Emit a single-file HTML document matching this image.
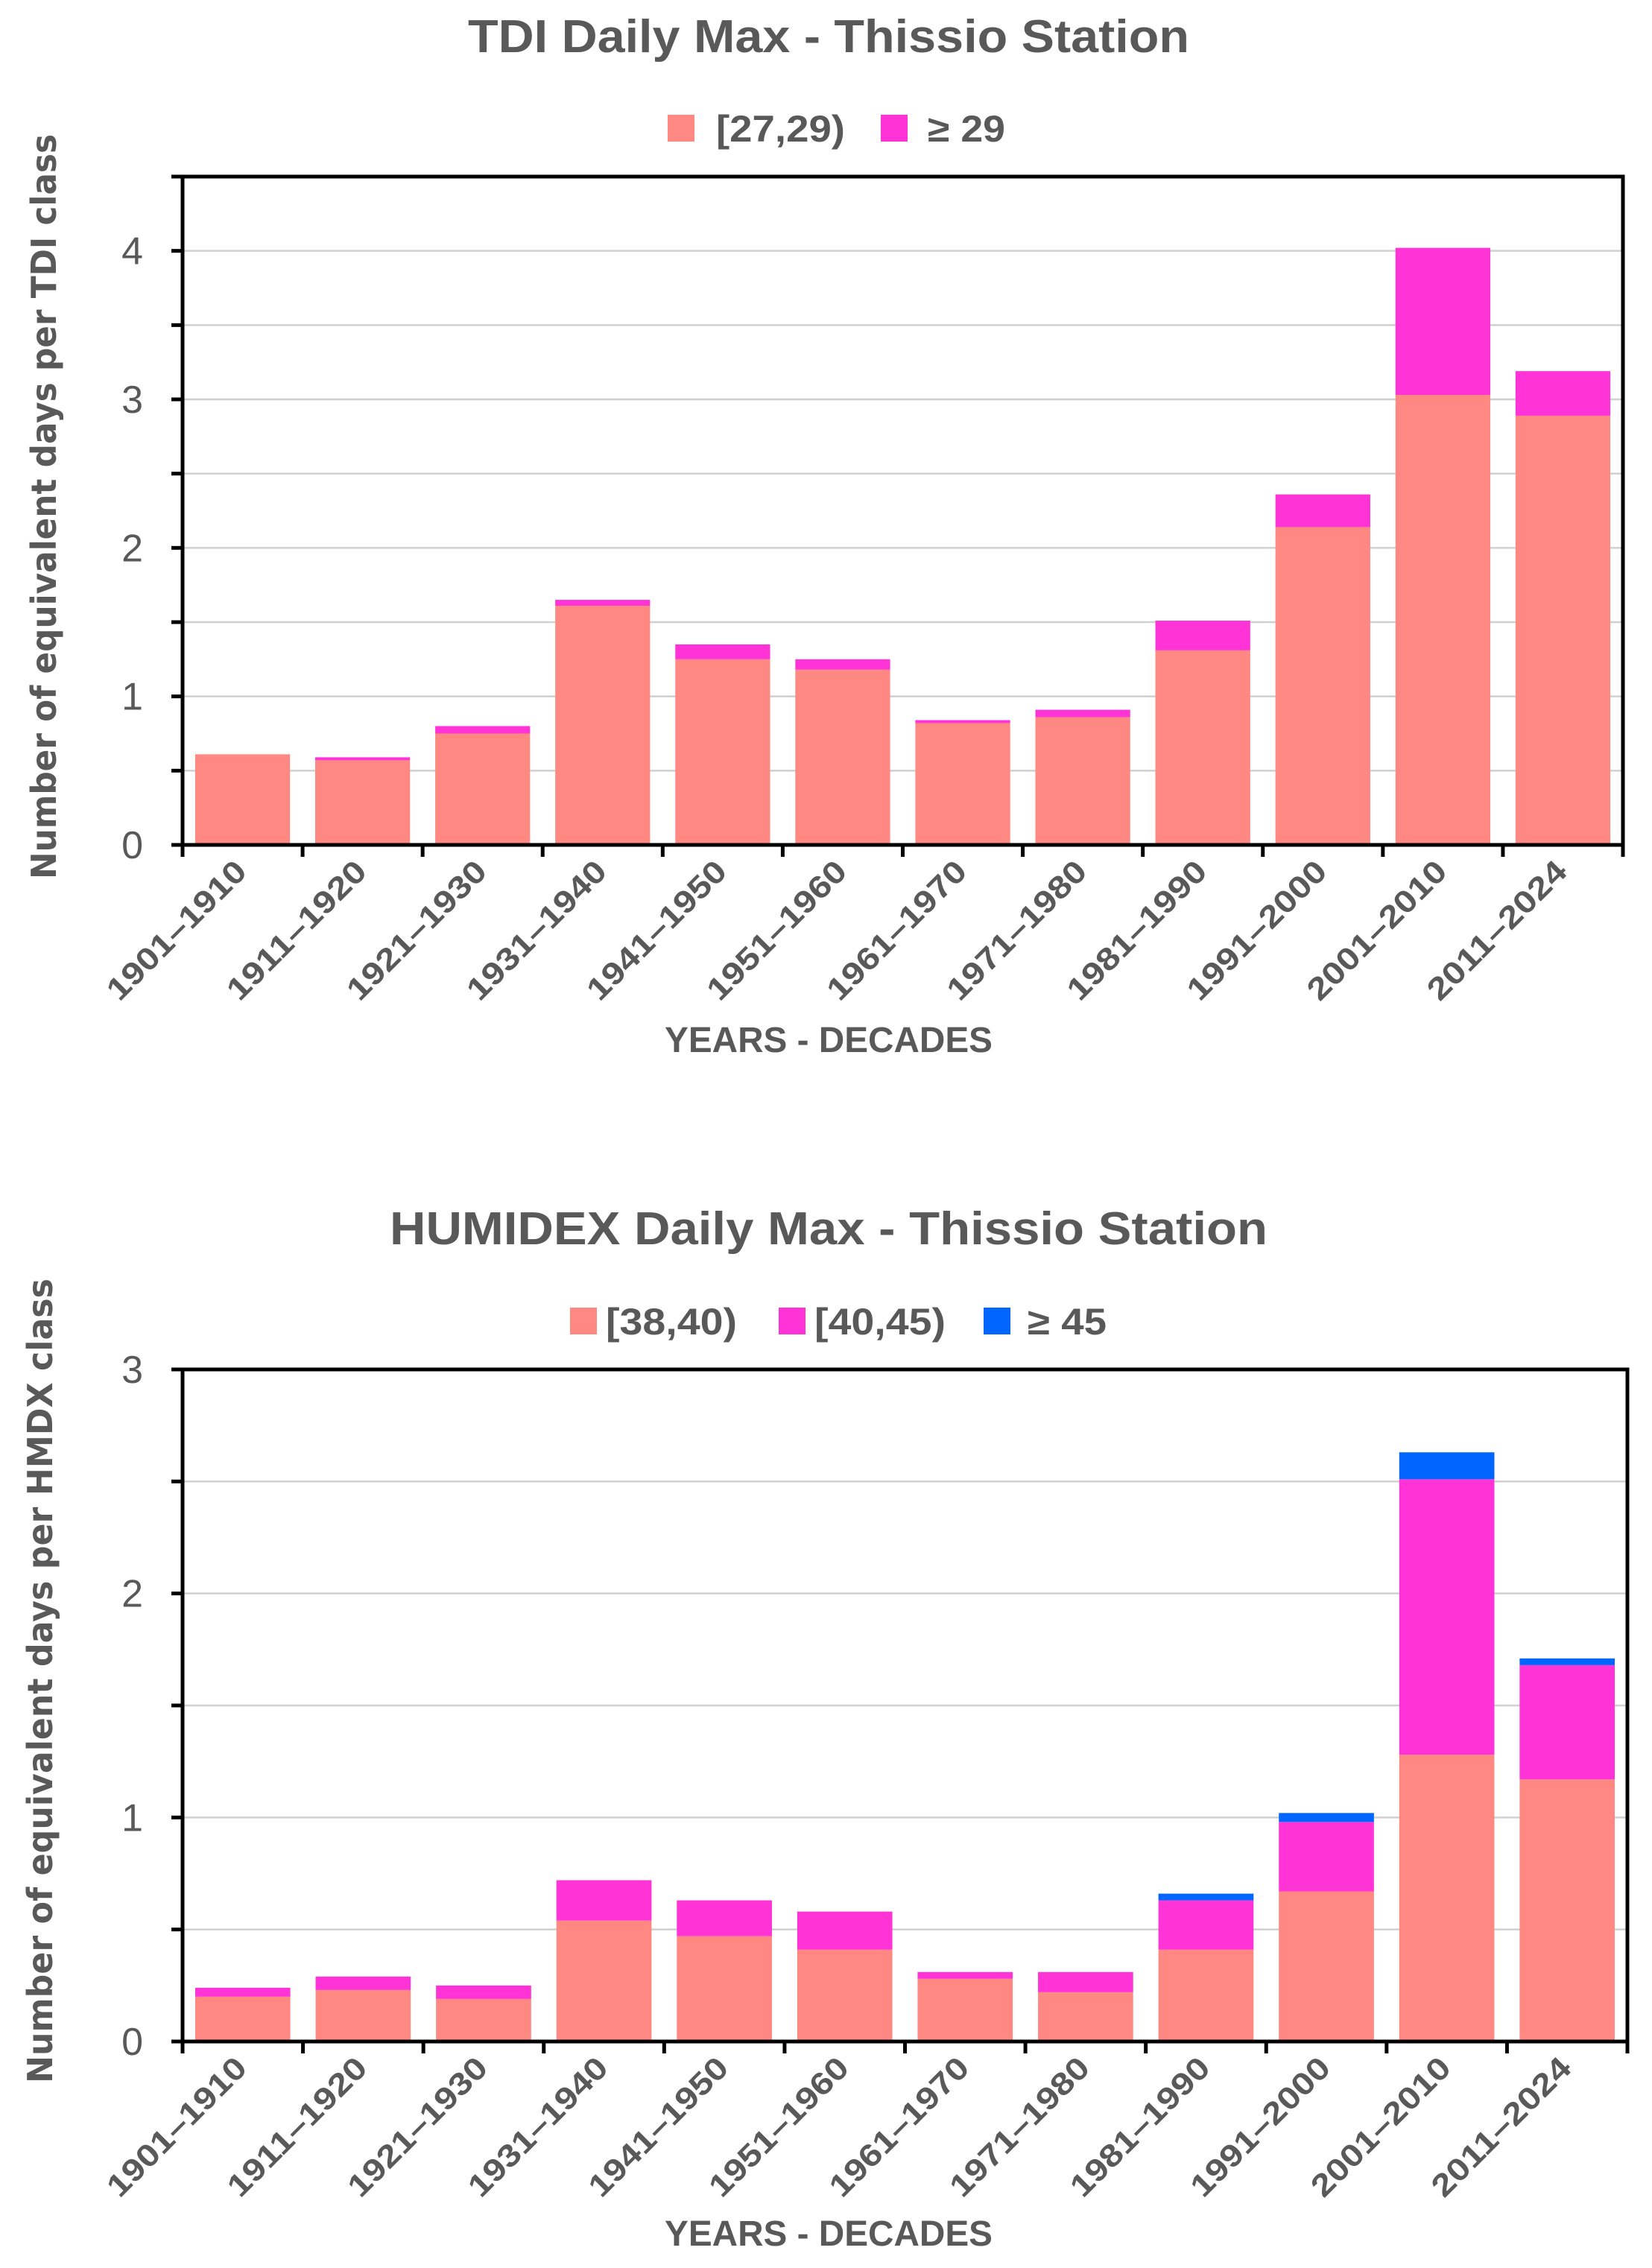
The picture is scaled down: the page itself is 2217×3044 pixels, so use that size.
<!DOCTYPE html>
<html><head><meta charset="utf-8"><style>
html,body{margin:0;padding:0;background:#fff}
svg{display:block}
text{font-family:"Liberation Sans",sans-serif;fill:#595959}
</style></head><body>
<svg id="c" width="2217" height="3044" viewBox="0 0 2217 3044" xmlns="http://www.w3.org/2000/svg"></svg>
<script>
const categories=["1901–1910","1911–1920","1921–1930","1931–1940","1941–1950","1951–1960","1961–1970","1971–1980","1981–1990","1991–2000","2001–2010","2011–2024"];
const tdiLow=[0.61,0.57,0.75,1.61,1.25,1.18,0.82,0.86,1.31,2.14,3.03,2.89];
const tdiHigh=[0.00,0.02,0.05,0.04,0.10,0.07,0.02,0.05,0.20,0.22,0.99,0.30];
const hmLow=[0.20,0.23,0.19,0.54,0.47,0.41,0.28,0.22,0.41,0.67,1.28,1.17];
const hmMid=[0.04,0.06,0.06,0.18,0.16,0.17,0.03,0.09,0.22,0.31,1.23,0.51];
const hmHigh=[0,0,0,0,0,0,0,0,0.03,0.04,0.12,0.03];
const tdiTicks=["0","1","2","3","4"];
const hmTicks=["0","1","2","3"];
const NS="http://www.w3.org/2000/svg";
const svg=document.getElementById('c');
function mk(tag,attrs,parent,txt){const e=document.createElementNS(NS,tag);for(const k in attrs)e.setAttribute(k,attrs[k]);if(txt!==undefined)e.textContent=txt;(parent||svg).appendChild(e);return e;}
function chart(o){
  const g=mk('g',{});
  
  
  const L=o.left,R=o.right,T=o.top,B=o.bottom;
  const y=v=>B-(v/o.max)*(B-T);
  const cw=(R-L)/categories.length;
  const x=i=>L+i*cw;
  for(let v=0.5;v<o.max+0.001;v+=0.5){
    const gl=mk('line',{x1:L,x2:R,y1:y(v),y2:y(v),stroke:'#d0d0d0','stroke-width':2.5},g);
    
    
  }
  categories.forEach((c,i)=>{
    let base=0;
    o.series.forEach(s=>{
      const v=s.vals[i];
      if(v>0){
        const r=mk('rect',{x:x(i)+cw*0.105,width:cw*0.79,y:y(base+v),height:y(base)-y(base+v),fill:s.color},g);
        
        
      }
      base+=v;
    });
  });
  const fr=mk('rect',{x:L,y:T,width:R-L,height:B-T,fill:'none',stroke:'#000','stroke-width':5},g);
  
  
  for(let v=0;v<=o.max+0.001;v+=0.5){
    mk('line',{x1:L-15,x2:L,y1:y(v),y2:y(v),stroke:'#000','stroke-width':5},g);
  }
  o.ticks.forEach(t=>{
    const tl=mk('text',{x:192,y:y(+t)+18,'text-anchor':'end','font-size':52},g,t);
    
    
  });
  for(let i=0;i<=categories.length;i++){
    mk('line',{x1:x(i),x2:x(i),y1:B,y2:B+16,stroke:'#000','stroke-width':5},g);
  }
  categories.forEach((c,i)=>{
    const cx=x(i)+cw/2+8, cy=B+38;
    const tl=mk('text',{x:cx,y:cy,'text-anchor':'end','font-size':42,'font-weight':'bold',transform:`rotate(-45 ${cx} ${cy})`,textLength:245,lengthAdjust:'spacingAndGlyphs'},g,c);
    
    
  });
  const ti=mk('text',{x:1112,y:o.titleY,'text-anchor':'middle','font-size':62,'font-weight':'bold',textLength:o.titleLen,lengthAdjust:'spacingAndGlyphs'},g,o.title);
  
  
  o.legend.forEach(l=>{
    const sw=mk('rect',{x:l.sx,y:o.legY-19,width:36,height:36,fill:l.color},g);
    
    
    const lt=mk('text',{x:l.tx,y:o.legY+17,'font-size':50,'font-weight':'bold',textLength:l.len,lengthAdjust:'spacingAndGlyphs'},g,l.label);
    
    
  });
  const xt=mk('text',{x:1112,y:o.xTitleY+17,'text-anchor':'middle','font-size':48,'font-weight':'bold',textLength:440,lengthAdjust:'spacingAndGlyphs'},g,'YEARS - DECADES');
  
  
  const yt=mk('text',{x:0,y:0,'text-anchor':'middle','font-size':46,'font-weight':'bold',textLength:o.yTitleLen,lengthAdjust:'spacingAndGlyphs',transform:`translate(${o.yTitleX} ${o.yTitleY}) rotate(-90)`,style:'font-family:"DejaVu Sans",sans-serif'},g,o.yTitle);
  
  
}
chart({name:'tdi-chart',left:245,right:2178,top:237,bottom:1134,max:4.5,ticks:tdiTicks,
  series:[{key:'27-29',vals:tdiLow,color:'#FF8882'},{key:'ge29',vals:tdiHigh,color:'#FF33D6'}],
  title:'TDI Daily Max - Thissio Station',titleY:70,titleLen:968,legY:173,
  legend:[{sx:896,tx:961,color:'#FF8882',label:'[27,29)',len:173},{sx:1182,tx:1245,color:'#FF33D6',label:'≥ 29',len:104}],
  xTitleY:1395,yTitle:'Number of equivalent days per TDI class',yTitleX:75,yTitleY:680,yTitleLen:1000});
chart({name:'humidex-chart',left:245,right:2184,top:1838,bottom:2740,max:3,ticks:hmTicks,
  series:[{key:'38-40',vals:hmLow,color:'#FF8882'},{key:'40-45',vals:hmMid,color:'#FF33D6'},{key:'ge45',vals:hmHigh,color:'#0066FF'}],
  title:'HUMIDEX Daily Max - Thissio Station',titleY:1670,titleLen:1178,legY:1774,
  legend:[{sx:765,tx:813,color:'#FF8882',label:'[38,40)',len:176},{sx:1045,tx:1093,color:'#FF33D6',label:'[40,45)',len:176},{sx:1320,tx:1379,color:'#0066FF',label:'≥ 45',len:106}],
  xTitleY:2997,yTitle:'Number of equivalent days per HMDX class',yTitleX:70,yTitleY:2256,yTitleLen:1080});
</script>
</body></html>
